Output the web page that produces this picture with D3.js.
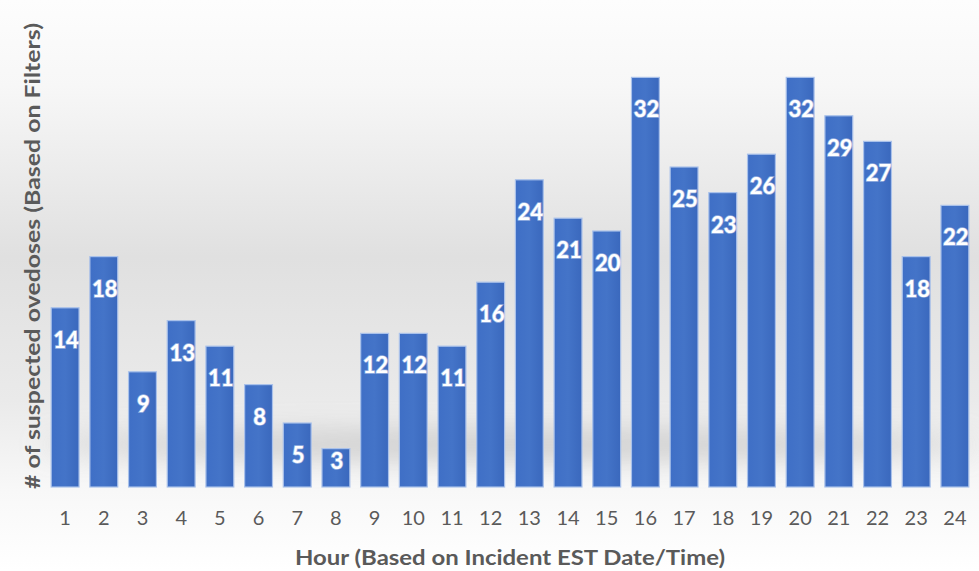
<!DOCTYPE html>
<html>
<head>
<meta charset="utf-8">
<script src="https://cdn.jsdelivr.net/npm/d3@7"></script>
<style>
  body { margin: 0; background: #fff; }
  svg { display: block; }
  text { font-family: Lato, "Open Sans", sans-serif; }
</style>
</head>
<body>
<div id="chart"></div>
<script>
var hours = d3.range(1, 25).map(String);
var counts = [14, 18, 9, 13, 11, 8, 5, 3, 12, 12, 11, 16, 24, 21, 20, 32, 25, 23, 26, 32, 29, 27, 18, 22];
var xTitle = "Hour (Based on Incident EST Date/Time)";
var yTitle = "# of suspected ovedoses (Based on Filters)";

var W = 979, H = 571;
var margin = {top: 39, right: 4, bottom: 84, left: 45},
    width = W - margin.left - margin.right,
    height = H - margin.top - margin.bottom;

var svg = d3.select("#chart")
  .append("svg")
  .attr("width", W)
  .attr("height", H);

// background: white top, grey middle, soft shadow near the floor
var defs = svg.append("defs");
var bg = defs.append("linearGradient")
  .attr("id", "bg").attr("x1", 0).attr("y1", 0).attr("x2", 0).attr("y2", 1);
bg.append("stop").attr("offset", "0%").attr("stop-color", "#fdfdfd");
bg.append("stop").attr("offset", "15%").attr("stop-color", "#f7f7f7");
bg.append("stop").attr("offset", "45%").attr("stop-color", "#e0e0e0");
bg.append("stop").attr("offset", "70%").attr("stop-color", "#eaeaea");
bg.append("stop").attr("offset", "86%").attr("stop-color", "#f8f8f8");
bg.append("stop").attr("offset", "100%").attr("stop-color", "#ffffff");

defs.append("filter").attr("id", "blur")
  .attr("x", "-20%").attr("y", "-200%").attr("width", "140%").attr("height", "500%")
  .append("feGaussianBlur").attr("stdDeviation", 14);

var barGrad = defs.append("linearGradient")
  .attr("id", "bar").attr("x1", 0).attr("y1", 0).attr("x2", 1).attr("y2", 0);
barGrad.append("stop").attr("offset", "0%").attr("stop-color", "#3f6fc6");
barGrad.append("stop").attr("offset", "50%").attr("stop-color", "#4474c8");
barGrad.append("stop").attr("offset", "100%").attr("stop-color", "#3a68bd");

svg.append("rect").attr("width", W).attr("height", H).attr("fill", "url(#bg)");
svg.append("ellipse")
  .attr("cx", W / 2 + 20).attr("cy", 445)
  .attr("rx", 470).attr("ry", 14)
  .attr("fill", "#b8b8b8")
  .attr("opacity", 0.65)
  .attr("filter", "url(#blur)");

var g = svg.append("g")
  .attr("transform", "translate(" + margin.left + "," + margin.top + ")");

var x = d3.scaleBand()
  .domain(hours)
  .range([0, width])
  .paddingInner(0.28)
  .paddingOuter(0.16);

var y = d3.scaleLinear()
  .domain([0, 35])
  .range([height, 0]);

g.selectAll(".bar")
  .data(counts)
  .enter()
  .append("rect")
    .attr("class", "bar")
    .attr("x", function(d, i) { return x(hours[i]); })
    .attr("y", function(d) { return y(d); })
    .attr("width", x.bandwidth())
    .attr("height", function(d) { return height - y(d); })
    .attr("fill", "url(#bar)")
    .attr("stroke", "#a9c1ea")
    .attr("stroke-width", 1.2);

g.selectAll(".lbl")
  .data(counts)
  .enter()
  .append("text")
    .attr("class", "lbl")
    .attr("x", function(d, i) { return x(hours[i]) + x.bandwidth() / 2 + 1; })
    .attr("y", function(d) { return Math.min(y(d) + 40, height - 18); })
    .attr("text-anchor", "middle")
    .attr("font-size", 22)
    .attr("font-weight", 700)
    .attr("fill", "#ffffff")
    .attr("stroke", "rgba(230,236,250,0.55)")
    .attr("stroke-width", 1.5)
    .attr("paint-order", "stroke")
    .text(function(d) { return d; });

var xAxis = g.append("g")
  .attr("transform", "translate(0," + height + ")")
  .call(d3.axisBottom(x).tickSize(0).tickPadding(24));
xAxis.select(".domain").remove();
xAxis.selectAll("text")
  .attr("font-size", 20)
  .attr("fill", "#5a5a5a")
  .style("font-family", "Lato, 'Open Sans', sans-serif");

svg.append("text")
  .attr("x", 510)
  .attr("y", 565)
  .attr("text-anchor", "middle")
  .attr("font-size", 21)
  .attr("font-weight", 700)
  .attr("fill", "#5a5a5a")
  .attr("textLength", 430)
  .attr("lengthAdjust", "spacingAndGlyphs")
  .text(xTitle);

svg.append("text")
  .attr("transform", "translate(40,256) rotate(-90)")
  .attr("text-anchor", "middle")
  .attr("font-size", 21)
  .attr("font-weight", 700)
  .attr("fill", "#5a5a5a")
  .attr("textLength", 466)
  .attr("lengthAdjust", "spacingAndGlyphs")
  .text(yTitle);
</script>
</body>
</html>
